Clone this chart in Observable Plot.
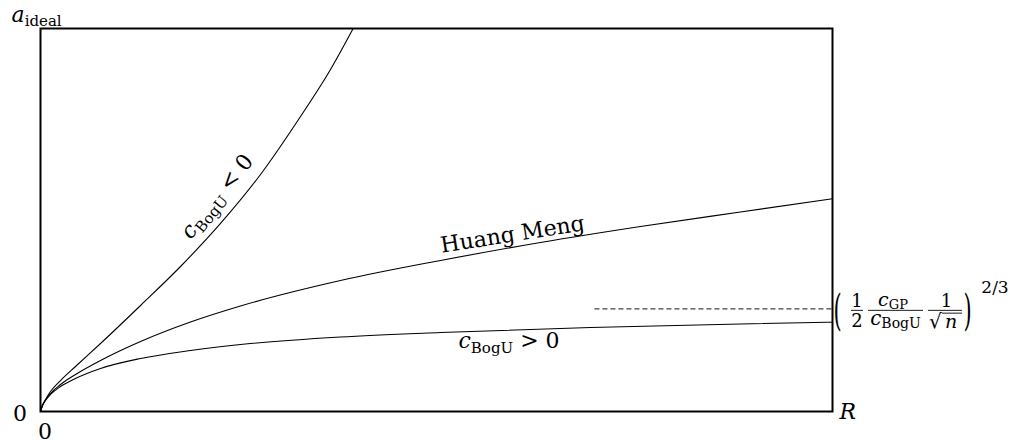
<!DOCTYPE html>
<html><head><meta charset="utf-8">
<script src="https://cdn.jsdelivr.net/npm/d3@7"></script>
<script src="https://cdn.jsdelivr.net/npm/@observablehq/plot@0.6"></script>
<style>
html,body{margin:0;padding:0;background:#fff;}
</style></head><body><div id="chart"></div>
<script>
// Values (x = R / R_max, y = a_ideal / a_max)
// Curve: c_BogU < 0
const xNeg = [0, .0025, .0063, .0126, .0253, .0442, .0758, .1263, .1768, .2273, .2778, .3283, .3662, .3948];
const yNeg = [0, .0157, .0313, .0522, .0809, .1175, .1775, .2768, .3786, .4909, .6188, .7702, .893, 1.0];
// Curve: Huang Meng
const xHM = [0, .0025, .0063, .0126, .0253, .0442, .0758, .1263, .1894, .2525, .3788, .5051, .6313, .7576, .8838, 1];
const yHM = [0, .0157, .03, .047, .0705, .0966, .1332, .1828, .2337, .2755, .342, .3943, .4413, .483, .5209, .5554];
// Curve: c_BogU > 0
const xPos = [0, .0025, .0063, .0126, .0253, .0442, .0758, .1263, .1894, .2525, .3788, .5051, .6944, .8838, 1];
const yPos = [0, .0157, .0287, .0444, .0653, .0862, .1123, .1384, .1593, .1749, .1945, .2063, .2193, .2285, .2332];
// Asymptote of the c_BogU > 0 curve, dashed from dashStart to R
const asymptote = 0.268;
const dashStart = 0.7;
// Texts
const axisTexts = {origin: "0", xEnd: "R", yEnd: "A_IDEAL"};
const curveTexts = {neg: "C_NEG", hm: "Huang Meng", pos: "C_POS"};

const rows = [];
xNeg.forEach((x, i) => rows.push({series: "neg", x, y: yNeg[i]}));
xHM.forEach((x, i) => rows.push({series: "hm", x, y: yHM[i]}));
xPos.forEach((x, i) => rows.push({series: "pos", x, y: yPos[i]}));

const fontFamily = "'DejaVu Serif', serif";

const plot = Plot.plot({
  width: 1018, height: 443,
  marginLeft: 40, marginRight: 186, marginTop: 28, marginBottom: 32,
  x: {domain: [0, 1], axis: null},
  y: {domain: [0, 1], axis: null},
  style: {fontFamily, background: "white", color: "black"},
  marks: [
    Plot.line(rows, {x: "x", y: "y", z: "series", curve: "monotone-x", stroke: "black", strokeWidth: 1.1}),
    Plot.ruleY([asymptote], {x1: dashStart, x2: 1, stroke: "#444", strokeDasharray: "5,3", strokeWidth: 1.1}),
    Plot.frame({stroke: "black", strokeWidth: 2}),
    Plot.text([{x: 0, y: 0, t: axisTexts.origin}], {x: "x", y: "y", text: "t", dx: -20.5, dy: 2, fontSize: 22, textAnchor: "middle"}),
    Plot.text([{x: 0, y: 0, t: axisTexts.origin}], {x: "x", y: "y", text: "t", dx: 4.5, dy: 20, fontSize: 22, textAnchor: "middle"}),
    Plot.text([{x: 1, y: 0, t: axisTexts.xEnd}], {x: "x", y: "y", text: "t", dx: 7, dy: 0, fontSize: 22, textAnchor: "start", fontStyle: "italic"}),
    Plot.text([{x: 0, y: 1, t: axisTexts.yEnd}], {x: "x", y: "y", text: "t", dx: -29, dy: -14, fontSize: 22, textAnchor: "start"}),
    Plot.text([{x: 0.2229, y: 0.5614, t: curveTexts.neg}], {x: "x", y: "y", text: "t", rotate: -51, fontSize: 22, textAnchor: "middle"}),
    Plot.text([{x: 0.596, y: 0.4621, t: curveTexts.hm}], {x: "x", y: "y", text: "t", rotate: -9, fontSize: 22, textAnchor: "middle"}),
    Plot.text([{x: 0.5278, y: 0.1846, t: curveTexts.pos}], {x: "x", y: "y", text: "t", fontSize: 22, textAnchor: "start"})
  ]
});
document.getElementById("chart").appendChild(plot);

const svg = d3.select(plot);
const rich = {
  "A_IDEAL": `<tspan font-style="italic">a</tspan><tspan font-size="15" dy="4">ideal</tspan>`,
  "C_NEG": `<tspan font-style="italic">c</tspan><tspan font-size="15" dy="5">BogU</tspan><tspan dy="-5"> &lt; 0</tspan>`,
  "C_POS": `<tspan font-style="italic">c</tspan><tspan font-size="15" dy="5">BogU</tspan><tspan dy="-5"> &gt; 0</tspan>`
};
svg.selectAll("text").each(function() {
  const s = this.textContent;
  if (rich[s]) d3.select(this).html(rich[s]);
});

// Right-hand formula, anchored at (R, asymptote)
const X0 = plot.scale("x").apply(1), Y0 = plot.scale("y").apply(asymptote);
const g = svg.append("g").attr("font-family", fontFamily).attr("fill", "black")
  .attr("transform", `translate(${X0},${Y0})`);
function txt(html, x, y, size, anchor = "middle") {
  return g.append("text").attr("x", x).attr("y", y).attr("font-size", size)
    .attr("text-anchor", anchor).html(html);
}
function bar(x1, x2, y) {
  g.append("line").attr("x1", x1).attr("x2", x2).attr("y1", y).attr("y2", y)
    .attr("stroke", "black").attr("stroke-width", 0.9);
}
g.append("text").attr("transform", "translate(5.5,3.2) scale(1,2)").attr("dy", "0.32em")
  .attr("font-size", 21).attr("font-weight", 300).attr("text-anchor", "middle").text("(");
txt("1", 25, -1.5, 18);
bar(19, 31, 2);
txt("2", 25, 18.7, 18);
txt(`<tspan font-style="italic">c</tspan><tspan font-size="13" dy="3">GP</tspan>`, 61, -2.5, 19);
bar(36, 91, 2);
txt(`<tspan font-style="italic">c</tspan><tspan font-size="14" dy="3">BogU</tspan>`, 63.5, 17, 20);
txt("1", 114.5, -1.5, 18);
bar(96, 130, 2);
txt("√", 97, 20, 20, "start");
txt(`<tspan font-style="italic">n</tspan>`, 113, 19.7, 19, "start");
bar(110, 130, 4.8);
g.append("text").attr("transform", "translate(135.5,3.2) scale(1,2)").attr("dy", "0.32em")
  .attr("font-size", 21).attr("text-anchor", "middle").text(")");
txt("2/3", 163, -15, 17);
</script></body></html>
